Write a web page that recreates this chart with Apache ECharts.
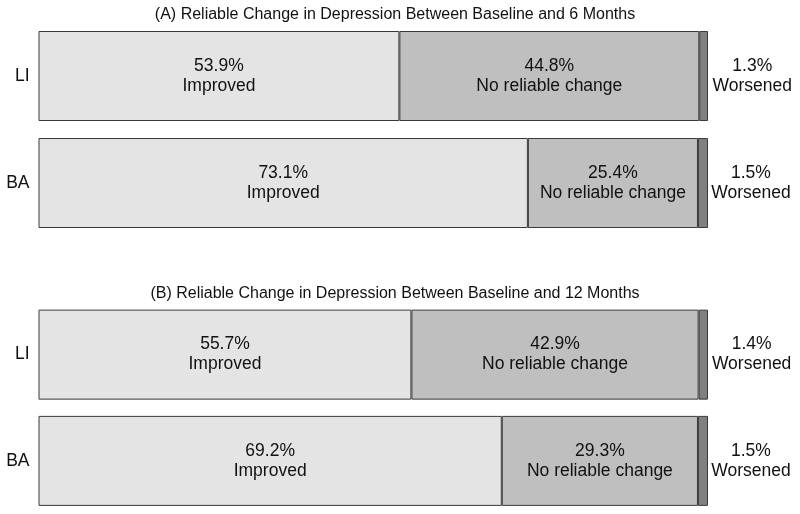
<!DOCTYPE html>
<html><head><meta charset="utf-8">
<script src="https://cdn.jsdelivr.net/npm/echarts@6/dist/echarts.min.js"></script>
<style>html,body{margin:0;padding:0;background:#fff}#c{width:800px;height:514px}</style>
</head><body><div id="c"></div>
<script>
const groups = ['LI', 'BA'];
const titles = ['(A) Reliable Change in Depression Between Baseline and 6 Months',
                '(B) Reliable Change in Depression Between Baseline and 12 Months'];
const improved6 = [53.9, 73.1];
const noChange6 = [44.8, 25.4];
const worsened6 = [1.3, 1.5];
const improved12 = [55.7, 69.2];
const noChange12 = [42.9, 29.3];
const worsened12 = [1.4, 1.5];
const segNames = ['Improved', 'No reliable change', 'Worsened'];

const FONT = 'Liberation Sans, Arial, sans-serif';
const colors = ['#e4e4e4', '#bfbfbf', '#808080'];
const panels = [[improved6, noChange6, worsened6], [improved12, noChange12, worsened12]];
const gridTops = [22.5, 301.5];
const titleCenters = [15, 294];

const grids = [], xAxes = [], yAxes = [], series = [], titleOpts = [];
panels.forEach((vals, p) => {
  grids.push({left: 38.5, width: 669.5, top: gridTops[p], height: 214});
  xAxes.push({gridIndex: p, type: 'value', min: 0, max: 100, show: false});
  yAxes.push({gridIndex: p, type: 'category', data: groups, inverse: true,
    axisLine: {show: false}, axisTick: {show: false},
    axisLabel: {fontSize: 17.5, color: '#111', fontFamily: FONT, margin: 9}});
  titleOpts.push({text: titles[p], left: 395, textAlign: 'center', top: titleCenters[p] - 8, padding: 0,
    textStyle: {fontSize: 16, fontWeight: 'normal', color: '#111', fontFamily: FONT}});
  vals.forEach((arr, s) => {
    const isW = s === 2;
    series.push({
      type: 'bar', name: segNames[s], xAxisIndex: p, yAxisIndex: p, stack: 'p' + p,
      barWidth: 90, data: arr,
      itemStyle: {color: colors[s], borderColor: '#3a3a3a', borderWidth: 1},
      label: {show: true, fontSize: 17.5, color: '#111', fontFamily: FONT, lineHeight: 20,
        align: 'center', verticalAlign: 'middle',
        position: isW ? [53, '50%'] : 'inside',
        formatter: (d) => d.value.toFixed(1) + '%\n' + segNames[s]},
      silent: true, animation: false
    });
  });
});

const chart = echarts.init(document.getElementById('c'));
chart.setOption({animation: false, title: titleOpts, grid: grids, xAxis: xAxes, yAxis: yAxes, series: series});
</script></body></html>
